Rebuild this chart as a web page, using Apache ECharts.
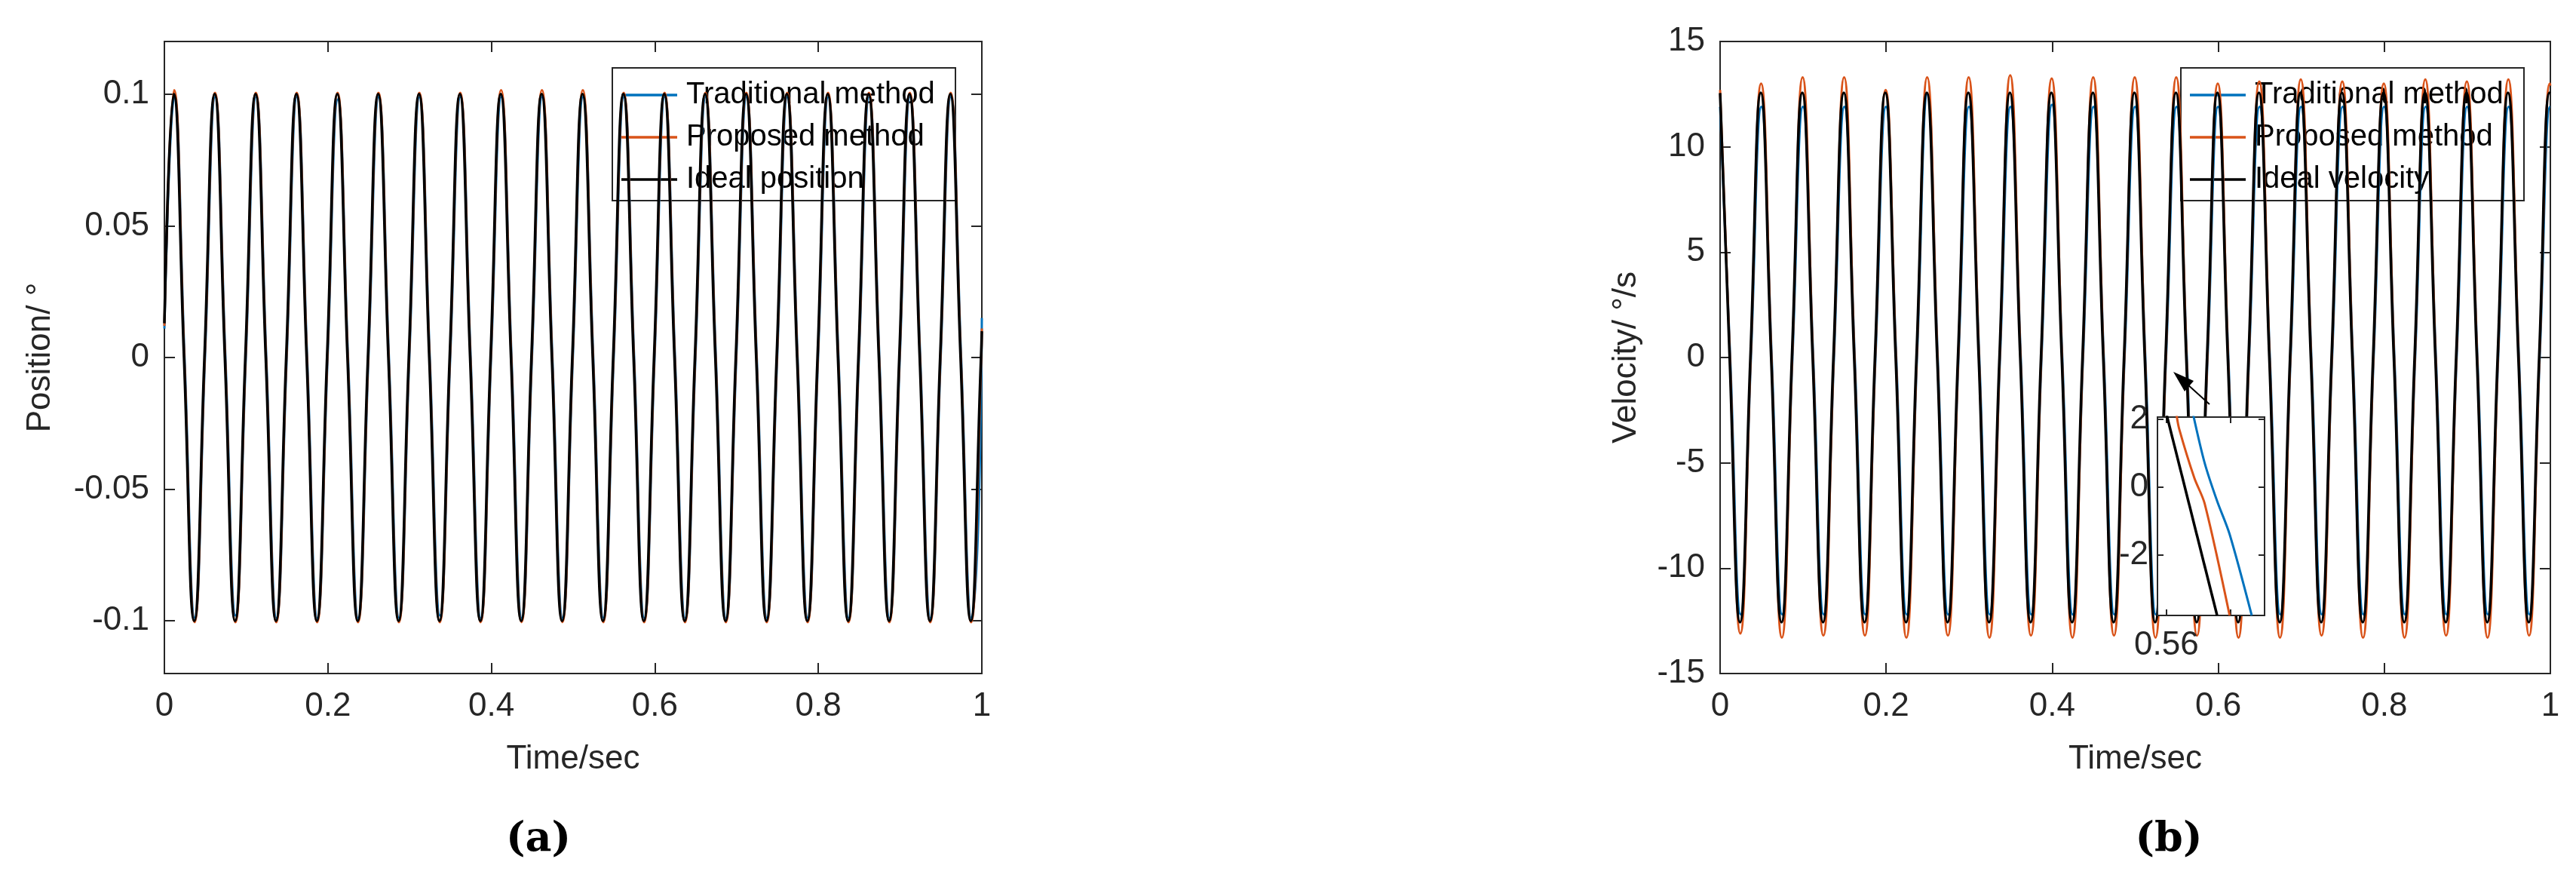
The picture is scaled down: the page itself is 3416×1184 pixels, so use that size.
<!DOCTYPE html>
<html><head><meta charset="utf-8">
<script src="https://cdn.jsdelivr.net/npm/echarts@6/dist/echarts.min.js"></script>
<style>html,body{margin:0;padding:0;background:#fff}#c{width:3416px;height:1184px}</style>
</head><body><div id="c"></div>
<script>
// ---- data ----
// extrema every half period (0.025 s); first extremum time per series
const posT0 = {trad: 0.0122, prop: 0.0119, ideal: 0.0115};
const posStart = {trad: 0.011, prop: 0.012, ideal: 0.013};
const posEnd = {trad: 0.015, prop: 0.011, ideal: 0.010};
const posIdealExt = [0.1,-0.1,0.1,-0.1,0.1,-0.1,0.1,-0.1,0.1,-0.1,0.1,-0.1,0.1,-0.1,0.1,-0.1,0.1,-0.1,0.1,-0.1,0.1,-0.1,0.1,-0.1,0.1,-0.1,0.1,-0.1,0.1,-0.1,0.1,-0.1,0.1,-0.1,0.1,-0.1,0.1,-0.1,0.1,-0.1];
const posTradExt = [0.099,-0.099,0.099,-0.098,0.099,-0.099,0.099,-0.099,0.098,-0.099,0.099,-0.099,0.099,-0.098,0.099,-0.099,0.099,-0.099,0.099,-0.099,0.099,-0.099,0.099,-0.099,0.099,-0.099,0.099,-0.099,0.099,-0.099,0.099,-0.099,0.099,-0.099,0.099,-0.099,0.099,-0.099,0.099,-0.099];
const posPropExt = [0.1015,-0.1005,0.1005,-0.1005,0.1005,-0.1005,0.1005,-0.1005,0.1005,-0.1005,0.1005,-0.1005,0.1005,-0.1005,0.1005,-0.1005,0.1015,-0.1005,0.1015,-0.1005,0.1015,-0.1005,0.1005,-0.1005,0.1005,-0.1005,0.1005,-0.1005,0.1005,-0.1005,0.1005,-0.1005,0.1005,-0.1005,0.1005,-0.1005,0.1005,-0.1005,0.1005,-0.1005];

const velT0 = {trad: 0.0247, prop: 0.0244, ideal: 0.024};
const velStart = {trad: 11.9, prop: 12.7, ideal: 12.55};
const velEnd = {trad: 11.9, prop: 12.9, ideal: 12.55};
const velIdealExt = [-12.57,12.57,-12.57,12.57,-12.57,12.57,-12.57,12.57,-12.57,12.57,-12.57,12.57,-12.57,12.57,-12.57,12.57,-12.57,12.57,-12.57,12.57,-12.57,12.57,-12.57,12.57,-12.57,12.57,-12.57,12.57,-12.57,12.57,-12.57,12.57,-12.57,12.57,-12.57,12.57,-12.57,12.57,-12.57,12.57];
const velTradExt = [-12.2,11.9,-12.2,11.9,-12.2,11.9,-12.2,11.9,-12.2,12.5,-12.2,11.9,-12.2,11.9,-12.2,12.0,-12.2,11.9,-12.2,11.9,-12.2,11.9,-12.2,11.9,-12.2,11.9,-12.2,11.9,-12.2,11.9,-12.2,11.9,-12.2,11.9,-12.2,11.9,-12.2,11.9,-12.2,11.9];
const velPropExt = [-13.1,13.0,-13.3,13.3,-13.2,13.3,-13.2,12.7,-13.3,13.3,-13.2,13.3,-13.3,13.4,-13.2,13.25,-13.3,13.3,-13.2,13.3,-13.3,13.3,-13.2,13.0,-13.3,13.1,-13.3,13.2,-13.2,13.1,-13.3,13.0,-13.3,13.2,-13.2,13.1,-13.3,13.2,-13.2,13.0];

// inset (zoom of velocity near t = 0.56)
const insIdeal = [[0.5600,2.16],[0.56158,-3.79]];
const insProp = [[0.56031,2.16],[0.56040,1.71],[0.56087,0.27],[0.56119,-0.48],[0.56197,-3.79]];
const insTrad = [[0.56083,2.16],[0.56119,0.72],[0.56158,-0.41],[0.56197,-1.39],[0.56266,-3.79]];

const xTicks = [0,0.2,0.4,0.6,0.8,1];
const posTicks = [-0.1,-0.05,0,0.05,0.1];
const velTicks = [-15,-10,-5,0,5,10,15];

// ---- build points: extremum, zero crossing, extremum ... ----
function build(t0, startV, ext, endV){
  const half = 0.025, pts = [[0,startV]];
  if (t0 - half/2 > 0) pts.push([t0 - half/2, 0]);
  ext.forEach((v,k)=>{
    const t = t0 + k*half;
    if (t < 1) pts.push([t, v]);
    if (t + half/2 < 1) pts.push([t + half/2, 0]);
  });
  pts.push([1,endV]);
  return pts;
}

const C = {trad:'#0072BD', prop:'#D95319', ideal:'#000000'};
const font = 'Liberation Sans, Arial, sans-serif';
const axCol = '#262626';

function xAx(gi){
  return [
    {gridIndex:gi, type:'value', min:0, max:1, interval:0.2, position:'bottom',
     name:'Time/sec', nameLocation:'middle', nameGap:92,
     nameTextStyle:{fontSize:44, color:axCol, fontFamily:font},
     axisLine:{onZero:false,lineStyle:{color:axCol,width:2}}, axisTick:{inside:true,length:14,lineStyle:{color:axCol,width:2}},
     axisLabel:{fontSize:44,color:axCol,fontFamily:font,margin:22}, splitLine:{show:false}},
    {gridIndex:gi, type:'value', min:0, max:1, interval:0.2, position:'top',
     axisLine:{onZero:false,lineStyle:{color:axCol,width:2}}, axisTick:{inside:true,length:14,lineStyle:{color:axCol,width:2}},
     axisLabel:{show:false}, splitLine:{show:false}}
  ];
}
function yAx(gi, min, max, ticks, name, gap, interval){
  const lab = {fontSize:44,color:axCol,fontFamily:font,margin:20};
  const base = {gridIndex:gi, type:'value', min:min, max:max, splitLine:{show:false},
     axisLine:{show:true,onZero:false,lineStyle:{color:axCol,width:2}}};
  if (interval) base.interval = interval;
  const tick = {inside:true,length:14,lineStyle:{color:axCol,width:2}};
  if (!interval){ tick.customValues = ticks; lab.customValues = ticks; }
  return [
    Object.assign({}, base, {position:'left', name:name, nameLocation:'middle', nameGap:gap,
      nameTextStyle:{fontSize:44,color:axCol,fontFamily:font}, axisTick:tick, axisLabel:lab}),
    Object.assign({}, base, {position:'right', axisTick:tick, axisLabel:{show:false}})
  ];
}

const series = [];
function addMain(xi, yi, data, key){
  series.push({type:'line', xAxisIndex:xi, yAxisIndex:yi, data:data, smooth:0.5, showSymbol:false,
    lineStyle:{color:C[key], width: key==='ideal'?3.5:3}, z: key==='ideal'?5:(key==='prop'?4:3), silent:true});
}
addMain(0,0,build(posT0.trad,posStart.trad,posTradExt,posEnd.trad),'trad');
addMain(0,0,build(posT0.prop,posStart.prop,posPropExt,posEnd.prop),'prop');
addMain(0,0,build(posT0.ideal,posStart.ideal,posIdealExt,posEnd.ideal),'ideal');
addMain(2,2,build(velT0.trad,velStart.trad,velTradExt,velEnd.trad),'trad');
addMain(2,2,build(velT0.prop,velStart.prop,velPropExt,velEnd.prop),'prop');
addMain(2,2,build(velT0.ideal,velStart.ideal,velIdealExt,velEnd.ideal),'ideal');
[[insTrad,'trad'],[insProp,'prop'],[insIdeal,'ideal']].forEach(([d,k])=>{
  series.push({type:'line', xAxisIndex:4, yAxisIndex:4, data:d, showSymbol:false, smooth:0.3,
    lineStyle:{color:C[k], width: k==='ideal'?3.5:3}, z:20, clip:true, silent:true});
});

const chart = echarts.init(document.getElementById('c'), null, {renderer:'canvas'});

function legendBox(left, top, names){
  const els = [{type:'rect', shape:{x:0,y:0,width:455,height:176}, style:{fill:'#fff',stroke:axCol,lineWidth:2}}];
  names.forEach((n,i)=>{
    const cy = 36 + i*56;
    els.push({type:'line', shape:{x1:12,y1:cy,x2:86,y2:cy}, style:{stroke:[C.trad,C.prop,C.ideal][i], lineWidth:3.5}});
    els.push({type:'text', x:98, y:cy, style:{text:n, fontSize:40, fontFamily:font, fill:'#000', verticalAlign:'middle'}});
  });
  return {type:'group', left:left, top:top, z:100, children:els};
}

chart.setOption({
  animation:false,
  backgroundColor:'#fff',
  grid:[
    {left:218, right:2114, top:55, bottom:291, show:true, borderColor:axCol, borderWidth:2, backgroundColor:'#fff'},
    {left:2281, right:34, top:55, bottom:291, show:true, borderColor:axCol, borderWidth:2, backgroundColor:'#fff'},
    {left:2861, width:142, top:553, height:263, show:true, borderColor:axCol, borderWidth:2, backgroundColor:'#fff', z:10}
  ],
  xAxis:[...xAx(0), ...xAx(1),
    {gridIndex:2, type:'value', min:0.55972, max:0.56306, position:'bottom', splitLine:{show:false},
     axisLine:{onZero:false,lineStyle:{color:axCol,width:2}},
     axisTick:{inside:true,length:8,customValues:[0.56,0.562],lineStyle:{color:axCol,width:2}},
     axisLabel:{customValues:[0.56], fontSize:44,color:axCol,fontFamily:font,margin:18, formatter:v=>'0.56'}, z:10},
    {gridIndex:2, type:'value', min:0.55972, max:0.56306, position:'top', splitLine:{show:false},
     axisLine:{onZero:false,lineStyle:{color:axCol,width:2}},
     axisTick:{inside:true,length:8,customValues:[0.56,0.562],lineStyle:{color:axCol,width:2}},
     axisLabel:{show:false}, z:10}
  ],
  yAxis:[...yAx(0,-0.12,0.12,posTicks,'Position/ °',142,null),
         ...yAx(1,-15,15,velTicks,'Velocity/ °/s',102,5),
    {gridIndex:2, type:'value', min:-3.79, max:2.07, position:'left', splitLine:{show:false},
     axisLine:{onZero:false,lineStyle:{color:axCol,width:2}},
     axisTick:{inside:true,length:8,customValues:[-2,0,2],lineStyle:{color:axCol,width:2}},
     axisLabel:{customValues:[-2,0,2], fontSize:44,color:axCol,fontFamily:font,margin:12}, z:10},
    {gridIndex:2, type:'value', min:-3.79, max:2.07, position:'right', splitLine:{show:false},
     axisLine:{onZero:false,lineStyle:{color:axCol,width:2}},
     axisTick:{inside:true,length:8,customValues:[-2,0,2],lineStyle:{color:axCol,width:2}},
     axisLabel:{show:false}, z:10}
  ],
  series:series,
  graphic:[
    legendBox(811, 89, ['Traditional method','Proposed method','Ideal position']),
    legendBox(2891, 89, ['Traditional method','Proposed method','Ideal velocity']),
    {type:'line', shape:{x1:2930,y1:536,x2:2900,y2:509}, style:{stroke:'#000',lineWidth:2}, z:100},
    {type:'polygon', shape:{points:[[2882,493],[2909,505],[2897,519]]}, style:{fill:'#000'}, z:100},
    {type:'text', x:714, y:1114, style:{text:'(a)', fontSize:54, fontWeight:'bold', fontFamily:'DejaVu Serif, Liberation Serif, serif', fill:'#000', align:'center', verticalAlign:'middle'}},
    {type:'text', x:2876, y:1114, style:{text:'(b)', fontSize:54, fontWeight:'bold', fontFamily:'DejaVu Serif, Liberation Serif, serif', fill:'#000', align:'center', verticalAlign:'middle'}}
  ]
});
</script></body></html>
